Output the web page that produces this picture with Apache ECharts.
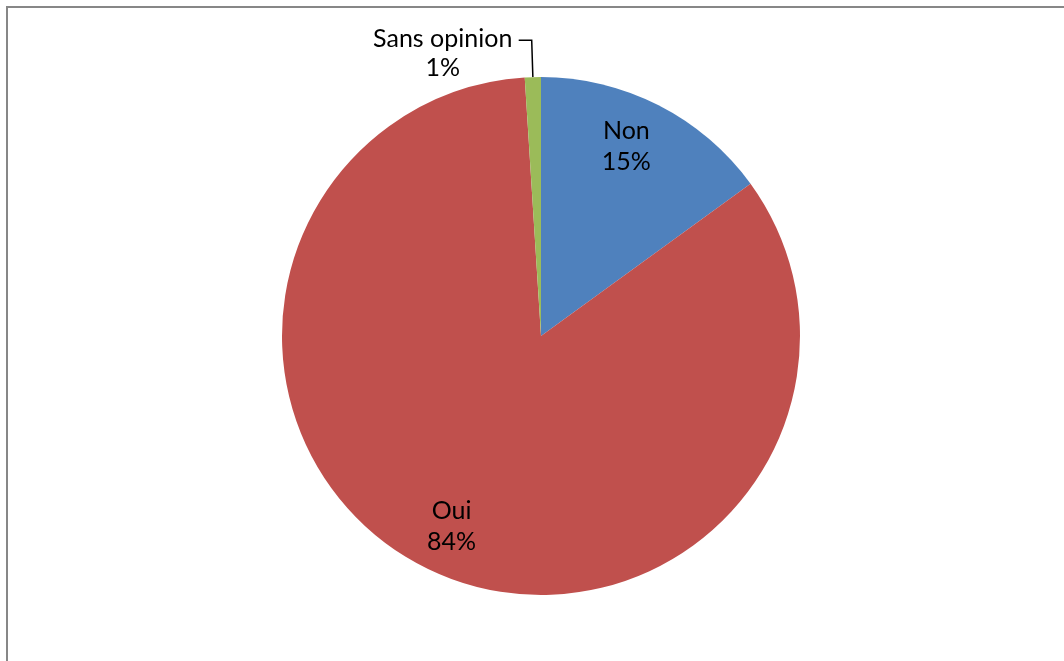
<!DOCTYPE html>
<html>
<head>
<meta charset="utf-8">
<script src="https://cdn.jsdelivr.net/npm/echarts@6/dist/echarts.min.js"></script>
<style>
  html, body { margin: 0; padding: 0; background: #fff; }
  #chart { width: 1064px; height: 661px; }
</style>
</head>
<body>
<div id="chart"></div>
<script>
// Survey answers (percent)
const categories = ['Non', 'Oui', 'Sans opinion'];
const values = [15, 84, 1];
const colors = ['#4F81BD', '#C0504D', '#9BBB59'];

const FONT = 'Lato, "Liberation Sans", sans-serif';
const FONT_SIZE = 25;
const center = [541, 336];
const radius = 259;

const chart = echarts.init(document.getElementById('chart'), null, { renderer: 'canvas' });

// Main slices; only the small slice carries an outside label with a leader line
const mainData = categories.map((name, i) => {
  const item = { name, value: values[i], itemStyle: { color: colors[i] } };
  if (i === 2) {
    item.label = {
      show: true,
      position: 'outside',
      formatter: p => '{a|' + p.name + '}\n{b|' + Math.round(p.percent) + '%}',
      padding: [27, 0, 0, 0],
      rich: {
        a: { fontFamily: FONT, fontSize: FONT_SIZE, color: '#000', width: 142, align: 'center', lineHeight: 29 },
        b: { fontFamily: FONT, fontSize: FONT_SIZE, color: '#000', width: 142, align: 'center', lineHeight: 29 }
      },
      distanceToLabelLine: 5
    };
    item.labelLine = {
      show: true,
      length: 37,
      length2: 13,
      lineStyle: { color: '#000', width: 1.5 }
    };
  } else {
    item.label = { show: false };
    item.labelLine = { show: false };
  }
  return item;
});

// Label ring: transparent copy placing the two big labels at ~0.8 of the radius
const labelData = categories.map((name, i) => ({
  name,
  value: values[i],
  itemStyle: { color: 'rgba(0,0,0,0)' },
  label: i === 0 ? { show: true, offset: [-10, -2] } : { show: i !== 2 }
}));

chart.setOption({
  backgroundColor: '#fff',
  animation: false,
  graphic: [{
    type: 'rect',
    shape: { x: 7, y: 7, width: 1080, height: 680 },
    style: { fill: 'none', stroke: '#878787', lineWidth: 2 },
    silent: true
  }],
  series: [
    {
      type: 'pie',
      center: center,
      radius: [0, radius],
      startAngle: 90,
      clockwise: true,
      avoidLabelOverlap: false,
      data: mainData
    },
    {
      type: 'pie',
      center: center,
      radius: [155, radius],
      startAngle: 90,
      clockwise: true,
      silent: true,
      avoidLabelOverlap: false,
      label: {
        position: 'inside',
        formatter: p => p.name + '\n' + Math.round(p.percent) + '%',
        fontFamily: FONT,
        fontSize: FONT_SIZE,
        lineHeight: 31,
        color: '#000',
        align: 'center'
      },
      labelLine: { show: false },
      data: labelData
    }
  ]
});
</script>
</body>
</html>
